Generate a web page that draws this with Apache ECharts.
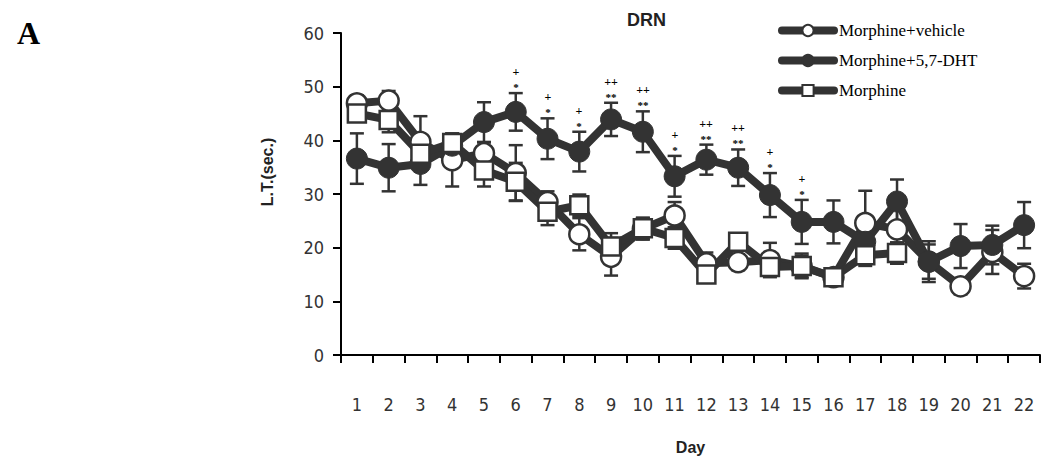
<!DOCTYPE html>
<html>
<head>
<meta charset="utf-8">
<script src="https://cdn.jsdelivr.net/npm/echarts@6/dist/echarts.min.js"></script>
<style>
  html, body { margin: 0; padding: 0; background: #fff; }
  #grafico { width: 1055px; height: 466px; }
</style>
</head>
<body>
<div id="grafico"></div>
<script>
// Dias del experimento
const dias = ['1','2','3','4','5','6','7','8','9','10','11','12','13','14','15','16','17','18','19','20','21','22'];

// Morphine+vehicle (circulo blanco)
const vehiculoMedia = [46.9, 47.4, 39.7, 36.3, 37.6, 33.9, 28.5, 22.5, 18.3, 23.5, 26.0, 17.1, 17.3, 17.7, 16.5, 14.5, 24.6, 23.4, 17.4, 12.8, 19.2, 14.7];
const vehiculoError = [1.5, 1.8, 4.8, 4.9, 2.0, 5.2, 2.0, 3.0, 3.5, 2.0, 2.5, 2.0, 1.5, 3.2, 2.0, 1.5, 6.0, 4.0, 3.2, 1.5, 4.1, 2.3];

// Morphine+5,7-DHT (circulo negro)
const dhtMedia = [36.6, 34.9, 35.6, 39.0, 43.4, 45.3, 40.3, 37.9, 43.9, 41.6, 33.3, 36.4, 34.9, 29.8, 24.8, 24.8, 21.1, 28.6, 17.4, 20.3, 20.5, 24.2];
const dhtError = [4.7, 4.4, 3.9, 2.2, 3.7, 3.5, 3.8, 3.7, 3.1, 3.8, 3.8, 2.8, 3.4, 4.1, 4.1, 4.0, 3.0, 4.1, 3.8, 4.1, 3.6, 4.3];

// Morphine (cuadrado blanco)
const morfinaMedia = [45.0, 43.8, 37.5, 39.5, 34.4, 32.3, 26.7, 27.9, 20.2, 23.6, 21.8, 15.0, 21.1, 16.4, 16.6, 14.5, 18.6, 19.0, null, null, null, null];
const morfinaError = [1.5, 2.3, 3.0, 1.8, 3.0, 3.5, 2.5, 2.0, 2.5, 2.0, 2.0, 1.5, 1.5, 1.5, 2.3, 1.5, 2.0, 2.0, null, null, null, null];

// Marcas de significancia sobre la serie DHT
const signoMas = ['', '', '', '', '', '+', '+', '+', '++', '++', '+', '++', '++', '+', '+', '', '', '', '', '', '', ''];
const signoAst = ['', '', '', '', '', '*', '*', '*', '**', '**', '*', '**', '**', '*', '*', '', '', '', '', '', '', ''];

const ticksY = [0, 10, 20, 30, 40, 50, 60];

const gris = '#333';

// Arma los datos [indice, bajo, alto] de las barras de error
function datosError(medias, errores) {
    const salida = [];
    medias.forEach((m, i) => {
        if (m == null) return;
        salida.push([i, m - errores[i], m + errores[i]]);
    });
    return salida;
}

function dibujarError(params, api) {
    const x = api.value(0);
    const bajo = api.coord([x, api.value(1)]);
    const alto = api.coord([x, api.value(2)]);
    const medio = 7;
    const estilo = { stroke: gris, lineWidth: 2.5 };
    return {
        type: 'group',
        children: [
            { type: 'line', shape: { x1: alto[0], y1: alto[1], x2: bajo[0], y2: bajo[1] }, style: estilo },
            { type: 'line', shape: { x1: alto[0] - medio, y1: alto[1], x2: alto[0] + medio, y2: alto[1] }, style: estilo },
            { type: 'line', shape: { x1: bajo[0] - medio, y1: bajo[1], x2: bajo[0] + medio, y2: bajo[1] }, style: estilo }
        ]
    };
}

const indicesSig = [];
signoMas.forEach((s, i) => { if (s) indicesSig.push(i); });

function dibujarSignos(params, api) {
    const i = indicesSig[params.dataIndex];
    const p = api.coord([api.value(0), api.value(1)]);
    const x = Math.round(p[0]);
    return {
        type: 'group',
        children: [
            { type: 'text', x: x, y: Math.round(p[1] - 6), style: { text: signoAst[i], fill: '#000', font: 'bold 11px "Liberation Serif"', align: 'center', verticalAlign: 'middle' } },
            { type: 'text', x: x, y: Math.round(p[1] - 21), style: { text: signoMas[i], fill: '#000', font: 'bold 12px "Liberation Serif"', align: 'center', verticalAlign: 'middle' } }
        ]
    };
}

document.addEventListener('DOMContentLoaded', () => {
    const grafico = echarts.init(document.getElementById('grafico'), null, { renderer: 'svg' });

    const opciones = {
        animation: false,
        backgroundColor: '#fff',
        title: [
            {
                text: 'DRN',
                left: 622,
                top: 6,
                textStyle: { fontFamily: 'Liberation Sans', fontWeight: 'bold', fontSize: 18, color: '#222' }
            },
            {
                text: 'A',
                left: 12,
                top: 12,
                textStyle: { fontFamily: 'Liberation Serif', fontWeight: 'bold', fontSize: 32, color: '#000' }
            }
        ],
        graphic: [
            {
                type: 'text',
                x: 267,
                y: 172,
                rotation: Math.PI / 2,
                style: { text: 'L.T.(sec.)', font: 'bold 16px "Liberation Sans"', fill: '#222', align: 'center', verticalAlign: 'middle' }
            }
        ],
        legend: {
            orient: 'vertical',
            left: 773,
            top: 17,
            itemGap: 13,
            itemWidth: 52,
            itemHeight: 14,
            selectedMode: false,
            data: ['Morphine+vehicle', 'Morphine+5,7-DHT', 'Morphine'],
            textStyle: { fontFamily: 'Liberation Serif', fontSize: 17, color: '#000' },
            lineStyle: { width: 8, color: gris, cap: 'round' },
            itemStyle: { borderWidth: 2, borderColor: gris }
        },
        grid: { left: 341, right: 15, top: 33, bottom: 111, containLabel: false },
        xAxis: {
            type: 'category',
            data: dias,
            boundaryGap: true,
            name: 'Day',
            nameLocation: 'middle',
            nameGap: 84,
            nameTextStyle: { fontFamily: 'Liberation Sans', fontWeight: 'bold', fontSize: 16, color: '#222' },
            axisLine: { lineStyle: { color: '#000', width: 2 } },
            axisTick: { show: true, alignWithLabel: false, interval: 0, length: 8, lineStyle: { width: 2, color: '#000' } },
            axisLabel: { interval: 0, margin: 40, fontFamily: '"Liberation Sans Narrow", "DejaVu Sans Condensed"', fontSize: 18, color: '#333' },
            splitLine: { show: false }
        },
        yAxis: {
            type: 'value',
            min: ticksY[0],
            max: ticksY[ticksY.length - 1],
            interval: 10,
            axisLine: { show: true, lineStyle: { color: '#000', width: 2 } },
            axisTick: { show: true, length: 8, lineStyle: { width: 2, color: '#000' } },
            axisLabel: { margin: 17, fontFamily: '"Liberation Sans Narrow", "DejaVu Sans Condensed"', fontSize: 18, color: '#333' },
            splitLine: { show: false }
        },
        series: [
            { name: 'errVehiculo', type: 'custom', renderItem: dibujarError, data: datosError(vehiculoMedia, vehiculoError), silent: true },
            { name: 'errDht', type: 'custom', renderItem: dibujarError, data: datosError(dhtMedia, dhtError), silent: true },
            { name: 'errMorfina', type: 'custom', renderItem: dibujarError, data: datosError(morfinaMedia, morfinaError), silent: true },
            {
                name: 'Morphine+vehicle',
                type: 'line',
                data: vehiculoMedia,
                symbol: 'circle',
                symbolSize: 20,
                lineStyle: { color: gris, width: 8 },
                itemStyle: { color: '#fff', borderColor: gris, borderWidth: 2.5 }
            },
            {
                name: 'Morphine+5,7-DHT',
                type: 'line',
                data: dhtMedia,
                symbol: 'circle',
                symbolSize: 21,
                lineStyle: { color: gris, width: 8 },
                itemStyle: { color: gris, borderColor: gris, borderWidth: 1 }
            },
            {
                name: 'Morphine',
                type: 'line',
                data: morfinaMedia,
                symbol: 'rect',
                symbolSize: 18,
                connectNulls: false,
                lineStyle: { color: gris, width: 8 },
                itemStyle: { color: '#fff', borderColor: gris, borderWidth: 2.5 }
            },
            {
                name: 'signos',
                type: 'custom',
                renderItem: dibujarSignos,
                data: indicesSig.map(i => [i, dhtMedia[i] + dhtError[i]]),
                itemStyle: { color: '#000' },
                silent: true
            }
        ]
    };

    grafico.setOption(opciones);
});
</script>
</body>
</html>
